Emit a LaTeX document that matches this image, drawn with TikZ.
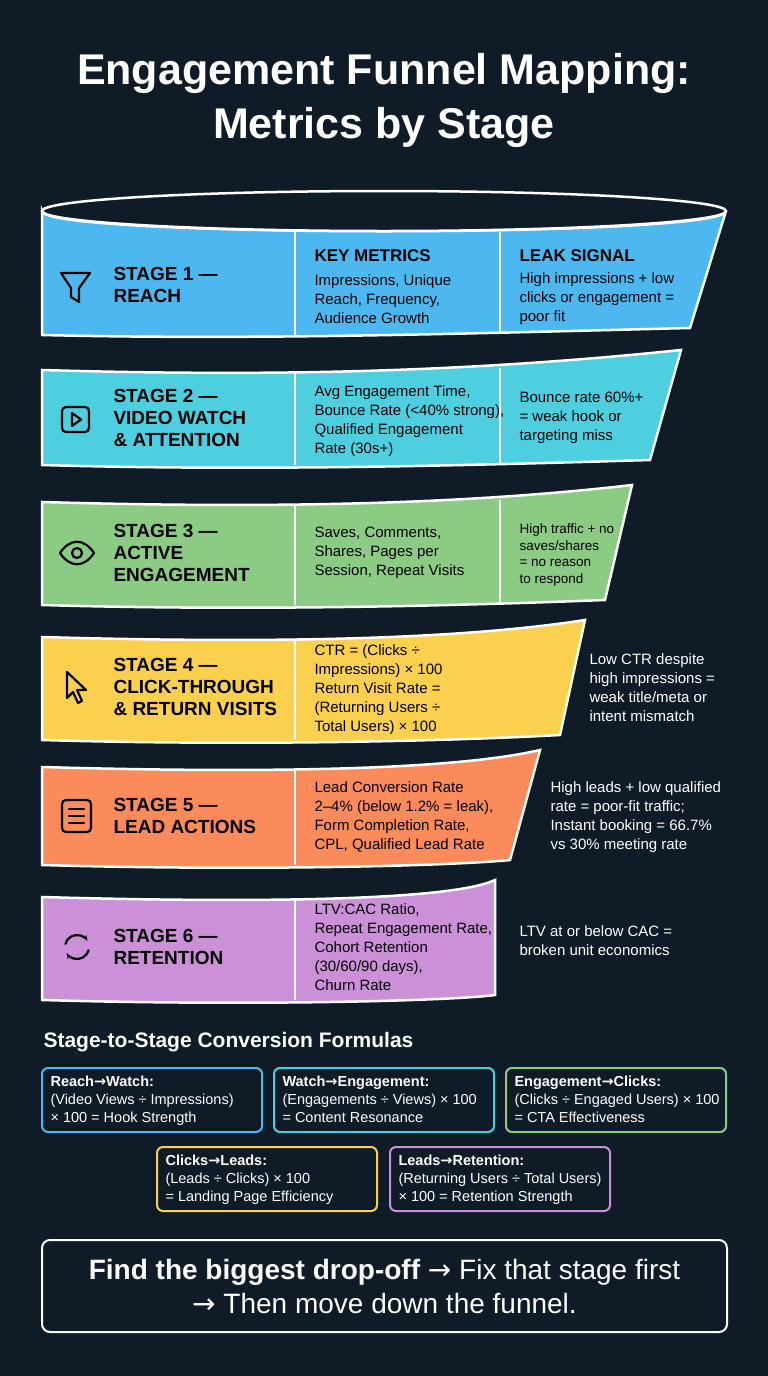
\documentclass[tikz,border=0pt]{standalone}
\usepackage{fontspec}
\setmainfont{Liberation Sans}
\newfontfamily\symf{DejaVu Sans}
\usetikzlibrary{calc, positioning, arrows.meta}
\definecolor{bg}{HTML}{0F1B27}
\definecolor{cA}{HTML}{4DB8F0}
\definecolor{cB}{HTML}{4ECFE0}
\definecolor{cC}{HTML}{8CCB84}
\definecolor{cD}{HTML}{FBD04F}
\definecolor{cE}{HTML}{FB8B5B}
\definecolor{cF}{HTML}{CC90D8}
\newcommand{\ra}{{\symf\char"2192}}
\newcommand{\band}[7]{% left top y, left bottom y, right top x, right top y, right bottom x, right bottom y, colour
  \filldraw[#7, draw=white, line width=2.5pt]
    (42,#1) .. controls (250,#1+6) and (450,#1+4) .. (#3,#4) -- (#5,#6)
    .. controls (450,#6+6) and (250,#2+6) .. (42,#2) -- cycle;}

\begin{document}
\begin{tikzpicture}[x=1pt,y=-1pt,
  stg/.style={anchor=west, align=left, text=black, font=\fontsize{19}{22}\selectfont\bfseries},
  met/.style={anchor=west, align=left, text=black, font=\fontsize{15}{19}\selectfont},
  hdr/.style={anchor=west, text=black, font=\fontsize{17}{20}\selectfont\bfseries},
  leak/.style={anchor=west, align=left, text=white, font=\fontsize{15}{19}\selectfont},
  fbox/.style={draw=#1, line width=2pt, rounded corners=6pt, fill=bg, minimum width=220pt, minimum height=64pt},
  ftxt/.style={anchor=north west, align=left, text=white, font=\fontsize{14.5}{18}\selectfont},
  icon/.style={draw=black, line width=2.2pt, line join=round, line cap=round}]
\fill[bg] (0,0) rectangle (768,1376);
\useasboundingbox (0,0) rectangle (768,1376);

% title
\node[text=white, align=center, font=\fontsize{43}{54}\selectfont\bfseries] (title) at (384,100)
  {Engagement Funnel Mapping:\\Metrics by Stage};

% funnel bands
\filldraw[cA, draw=white, line width=2.5pt]
  (42,211) .. controls (42,238) and (726,238) .. (726,211) -- (690,328)
  .. controls (450,334) and (250,340) .. (42,335) -- cycle;
\draw[white, line width=2.5pt, fill=bg] (384,211) ellipse [x radius=342, y radius=20];
\band{370}{465}{681}{350}{650}{460}{cB}
\band{502}{605}{632}{485}{605}{600}{cC}
\band{637}{740}{585}{620}{560}{735}{cD}
\band{767}{865}{540}{750}{510}{860}{cE}
\band{897}{1000}{495}{880}{495}{995}{cF}

% dividers
\foreach \y/\h in {232/336, 372/465, 505/605, 640/740, 770/865, 900/1000}
  \draw[white, line width=2.5pt] (295,\y) -- (295,\h);
\foreach \y/\h in {232/334, 368/463, 500/604}
  \draw[white, line width=2.5pt] (500,\y) -- (500,\h);

% stage titles
\node[stg] (s1) at (110,285) {STAGE 1 —\\REACH};
\node[stg] (s2) at (110,418) {STAGE 2 —\\VIDEO WATCH\\\& ATTENTION};
\node[stg] (s3) at (110,553) {STAGE 3 —\\ACTIVE\\ENGAGEMENT};
\node[stg] (s4) at (110,687) {STAGE 4 —\\CLICK-THROUGH\\\& RETURN VISITS};
\node[stg] (s5) at (110,816) {STAGE 5 —\\LEAD ACTIONS};
\node[stg] (s6) at (110,947) {STAGE 6 —\\RETENTION};

% key metrics
\node[hdr] (km) at (311,256) {KEY METRICS};
\node[hdr] (ls) at (516,256) {LEAK SIGNAL};
\node[met] (m1) at (311,299) {Impressions, Unique\\Reach, Frequency,\\Audience Growth};
\node[met] (m2) at (311,421) {Avg Engagement Time,\\Bounce Rate (<40\% strong),\\Qualified Engagement\\Rate (30s+)};
\node[met] (m3) at (311,553) {Saves, Comments,\\Shares, Pages per\\Session, Repeat Visits};
\node[met] (m4) at (311,690) {CTR = (Clicks ÷\\Impressions) × 100\\Return Visit Rate =\\(Returning Users ÷\\Total Users) × 100};
\node[met] (m5) at (311,817) {Lead Conversion Rate\\2–4\% (below 1.2\% = leak),\\Form Completion Rate,\\CPL, Qualified Lead Rate};
\node[met] (m6) at (311,947) {LTV:CAC Ratio,\\Repeat Engagement Rate,\\Cohort Retention\\(30/60/90 days),\\Churn Rate};

% leak signals
\node[met] (l1) at (516,299) {High impressions + low\\clicks or engagement =\\poor fit};
\node[met] (l2) at (516,418) {Bounce rate 60\%+\\= weak hook or\\targeting miss};
\node[met, font=\fontsize{13.5}{16.5}\selectfont] (l3) at (516,555) {High traffic + no\\saves/shares\\= no reason\\to respond};
\node[leak] (l4) at (586,688) {Low CTR despite\\high impressions =\\weak title/meta or\\intent mismatch};
\node[leak] (l5) at (547,817) {High leads + low qualified\\rate = poor-fit traffic;\\Instant booking = 66.7\%\\vs 30\% meeting rate};
\node[leak] (l6) at (516,941) {LTV at or below CAC =\\broken unit economics};

% icons
\draw[icon] (61,273) -- (90,273) -- (79,288) -- (79,302) -- (71,297) -- (71,288) -- cycle;
\draw[icon, rounded corners=4pt] (62,407) rectangle (89,432);
\draw[icon] (72,413) -- (81,419.5) -- (72,426) -- cycle;
\draw[icon] (60,553) .. controls (70,538) and (84,538) .. (94,553) .. controls (84,568) and (70,568) .. (60,553) -- cycle;
\draw[icon] (77,553) circle (5);
\draw[icon] (67,672) -- (67,698) -- (73,692) -- (78,703) -- (82,701) -- (77,690) -- (86,690) -- cycle;
\draw[icon, rounded corners=4pt] (62,800) rectangle (91,832);
\foreach \y in {809,816,823} \draw[icon] (69,\y) -- (84,\y);
\draw[icon, -{Stealth[length=6pt]}] ([shift={(195:12)}]77,947) arc[start angle=195, end angle=330, radius=12];
\draw[icon, -{Stealth[length=6pt]}] ([shift={(15:12)}]77,947) arc[start angle=15, end angle=150, radius=12];

% formulas
\node[anchor=west, text=white, font=\fontsize{21}{24}\selectfont\bfseries] (fh) at (40,1042) {Stage-to-Stage Conversion Formulas};
\node[fbox=cA] (f1) at (152,1100) {};
\node[fbox=cB] (f2) at (384,1100) {};
\node[fbox=cC] (f3) at (616,1100) {};
\node[fbox=cD] (f4) at (267,1179) {};
\node[fbox=cF] (f5) at (500,1179) {};
\node[ftxt] at ([xshift=6pt,yshift=-5pt]f1.north west) {\textbf{Reach\ra Watch:}\\(Video Views ÷ Impressions)\\× 100 = Hook Strength};
\node[ftxt] at ([xshift=6pt,yshift=-5pt]f2.north west) {\textbf{Watch\ra Engagement:}\\(Engagements ÷ Views) × 100\\= Content Resonance};
\node[ftxt] at ([xshift=6pt,yshift=-5pt]f3.north west) {\textbf{Engagement\ra Clicks:}\\(Clicks ÷ Engaged Users) × 100\\= CTA Effectiveness};
\node[ftxt] at ([xshift=6pt,yshift=-5pt]f4.north west) {\textbf{Clicks\ra Leads:}\\(Leads ÷ Clicks) × 100\\= Landing Page Efficiency};
\node[ftxt] at ([xshift=6pt,yshift=-5pt]f5.north west) {\textbf{Leads\ra Retention:}\\(Returning Users ÷ Total Users)\\× 100 = Retention Strength};

% bottom line
\node[draw=white, line width=2pt, rounded corners=8pt, minimum width=685pt, minimum height=92pt,
  text=white, align=center, font=\fontsize{28}{34}\selectfont] (tip) at (384.5,1286)
  {\textbf{Find the biggest drop-off} \ra\ Fix that stage first\\\ra\ Then move down the funnel.};
\end{tikzpicture}
\end{document}
